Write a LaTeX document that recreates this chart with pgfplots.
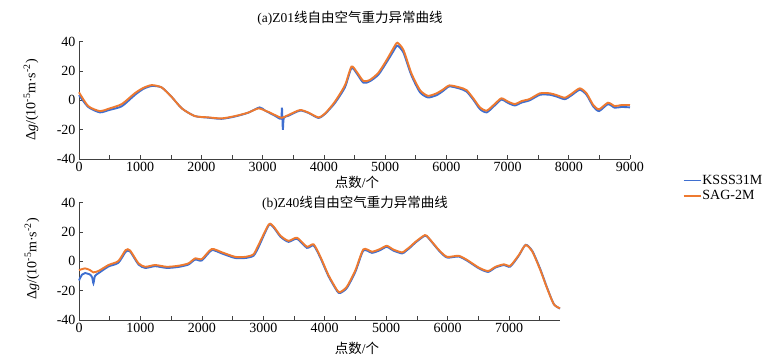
\documentclass[border=0pt]{standalone}
\usepackage{fontspec}
\setmainfont{Liberation Serif}
\newfontfamily\cjk{Noto Sans CJK SC}
\usepackage{pgfplots}
\pgfplotsset{compat=1.18}
\definecolor{kblue}{HTML}{3F6FD0}
\definecolor{sorange}{HTML}{EE7A30}
\definecolor{axgray}{HTML}{404040}

\pgfplotstableread{
x y
0 3.6
150 -4.5
340 -8.2
500 -6.5
700 -4
910 3.6
1050 7.8
1190 9.8
1350 8.8
1510 2.5
1680 -5.5
1890 -10.7
2110 -11.8
2330 -12.6
2550 -11
2760 -8.5
2950 -4.8
3040 -7
3200 -10.5
3300 -12.5
3315 -5
3330 -20
3345 -12
3420 -10.5
3610 -7
3750 -8.6
3910 -12
4020 -9.2
4180 -1.8
4345 9
4450 22
4535 18.5
4645 12
4750 13
4890 17.5
5025 26
5135 33.5
5200 37.3
5300 32.5
5430 17
5570 5.5
5700 2
5840 3.5
5950 6.5
6050 9.5
6220 8
6330 6
6440 0.5
6550 -6
6660 -8.2
6790 -3.5
6900 0.5
7010 -1.8
7120 -3.5
7230 -1.5
7360 0
7530 3.8
7690 3.8
7800 2.6
7935 0.8
8040 3.3
8180 7.2
8290 3.8
8400 -4.2
8495 -7.3
8640 -2.6
8750 -5
8860 -4.5
9000 -4.8
}\aK

\pgfplotstableread{
x y
0 5.5
150 -3.9
340 -7.3
500 -5.5
700 -2.5
910 4.8
1050 8.5
1190 10.4
1350 8.8
1510 2.5
1680 -5.5
1890 -10.7
2110 -11.6
2330 -12.3
2550 -10.7
2760 -8.4
2930 -5.5
3040 -7
3090 -7.8
3200 -10
3310 -11.9
3420 -10
3610 -6.6
3750 -8.4
3910 -11.6
4020 -8.9
4180 -0.9
4345 10.4
4450 23
4535 19.5
4645 13.2
4750 13.9
4890 18.8
5025 27.5
5135 35.5
5200 39.3
5300 34.3
5430 18.4
5570 7
5700 3.1
5840 4.8
5950 7.5
6050 10.2
6220 8.8
6330 7
6440 1.4
6550 -4.8
6660 -7
6790 -2.5
6900 1.4
7010 -0.9
7120 -2.5
7230 -0.5
7360 0.9
7530 4.8
7690 4.8
7800 3.6
7935 1.8
8040 4.3
8180 8.2
8290 4.8
8400 -3.2
8495 -6.1
8640 -1.6
8750 -3.9
8860 -3.2
9000 -3.2
}\aS

\pgfplotstableread{
x y
0 -13
50 -9
100 -8
180 -9
215 -11
235 -15
260 -10
320 -8
480 -3.5
640 -1
760 6.5
830 6.8
970 -2.2
1080 -4.5
1240 -3.3
1430 -4.5
1620 -3.8
1780 -2.2
1890 1.2
2000 0.6
2160 7.6
2330 5.3
2540 2.3
2710 2.3
2840 3.8
2920 9.5
3090 24.7
3170 23
3280 16.8
3410 13.3
3550 15.4
3710 9.2
3820 10.8
3930 2.4
4060 -10
4200 -20.2
4250 -21.6
4360 -18.2
4500 -7
4630 7.4
4770 5.8
4900 7.6
5010 9.9
5120 7.3
5260 5.4
5320 7
5390 9.4
5480 12.9
5630 17.5
5690 15.8
5860 7.3
5990 2.6
6180 3.3
6320 0.4
6510 -4.8
6660 -7.2
6780 -4.2
6920 -2.5
7020 -3.6
7160 3.9
7270 11.3
7380 7
7510 -5.4
7620 -18
7730 -29.2
7830 -32.2
}\bK

\pgfplotstableread{
x y
0 -6
100 -4.8
180 -6
235 -7.5
320 -6.5
480 -2.5
640 0.2
760 7.7
830 7.5
970 -1.4
1080 -3.7
1240 -2.5
1430 -3.7
1620 -3
1780 -1.4
1890 2
2000 1.6
2160 8.4
2330 6.1
2540 3.1
2710 3.1
2840 4.8
2920 11
3090 25.2
3170 23.6
3280 17.5
3410 14
3550 16.1
3710 10
3820 11.6
3930 3.1
4060 -9.3
4200 -19.6
4250 -21
4360 -17.3
4500 -6
4630 8.2
4770 6.6
4900 8.4
5010 10.6
5120 8
5260 6.1
5320 7.7
5390 10
5480 13.4
5630 17.9
5690 16.1
5860 7.7
5990 3.1
6180 3.8
6320 0.9
6510 -4.3
6660 -6.6
6780 -3.7
6920 -2
7020 -3
7160 4.3
7270 11.1
7380 6.6
7510 -6
7620 -18.4
7730 -29.3
7830 -32
}\bS

\pgfplotsset{
  myax/.style={
    scale only axis,
    axis x line=bottom, axis y line=left,
    axis line style={draw=axgray, line width=0.8pt, -},
    ymin=-40, ymax=40, ytick={-40,-20,0,20,40}, xmin=0,
    xtick distance=1000, minor x tick num=1,
    tick align=inside, major tick length=4pt, minor tick length=4pt,
    every tick/.style={draw=axgray, line width=0.6pt},
    /pgf/number format/assume math mode=true,
    /pgf/number format/1000 sep={},
    tick label style={font=\fontsize{14}{15}\selectfont, text=black},
    clip=false,
  },
  kline/.style={color=kblue, line width=1.9pt, no markers, smooth, tension=0.4},
  sline/.style={color=sorange, line width=1.9pt, no markers, smooth, tension=0.4},
}

\begin{document}
\begin{tikzpicture}
\path[use as bounding box] (0,0) rectangle (769pt,360pt);
\begin{axis}[myax,
  at={(79pt,201pt)}, anchor=south west, width=551pt, height=117.3pt,
  xmax=9000,
]
\addplot[kline] table[x=x,y=y] {\aK};
\addplot[sline] table[x=x,y=y] {\aS};
\end{axis}

\begin{axis}[myax,
  at={(79pt,40pt)}, anchor=south west, width=481pt, height=117.3pt,
  xmax=7830,
  legend style={at={(1.255,1.245)}, anchor=north west, draw=none, fill=none,
    font=\fontsize{14}{15}\selectfont, row sep=2.5pt, inner sep=0pt,
    nodes={inner sep=1pt}},
  legend cell align=left,
  legend image code/.code={\path[draw=none] (0pt,-3pt) rectangle (17pt,3pt); \draw[#1, line width=1.5pt] (0pt,0pt) -- (17pt,0pt);},
]
\addplot[kline] table[x=x,y=y] {\bK};
\addlegendentry{KSSS31M}
\addplot[sline] table[x=x,y=y] {\bS};
\addlegendentry{SAG-2M}
\end{axis}

\node[font=\fontsize{13.5}{14}\selectfont] at (350pt,342pt) {(a)Z01{\cjk 线自由空气重力异常曲线}};
\node[font=\fontsize{13.5}{14}\selectfont] at (355pt,157pt) {(b)Z40{\cjk 线自由空气重力异常曲线}};
\node[font=\fontsize{13.5}{14}\selectfont] at (357pt,178pt) {{\cjk 点数}/{\cjk 个}};
\node[font=\fontsize{13.5}{14}\selectfont] at (357pt,12pt) {{\cjk 点数}/{\cjk 个}};
\node[rotate=90, font=\fontsize{14}{15}\selectfont] at (31pt,260pt) {Δ\textit{g}/(10\textsuperscript{-5}m·s\textsuperscript{-2})};
\node[rotate=90, font=\fontsize{14}{15}\selectfont] at (32pt,101pt) {Δ\textit{g}/(10\textsuperscript{-5}m·s\textsuperscript{-2})};
\end{tikzpicture}
\end{document}
